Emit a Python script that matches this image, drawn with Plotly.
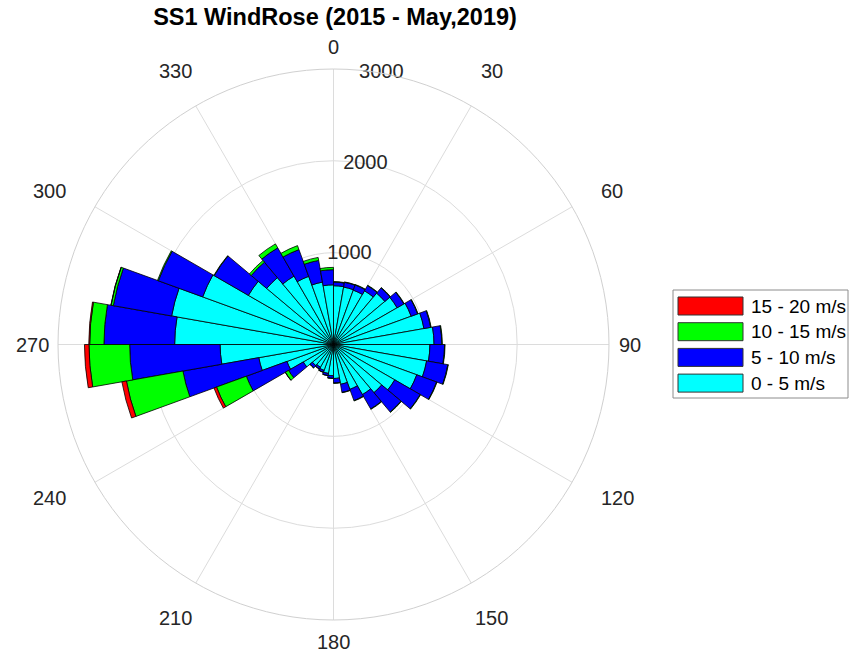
import math
import plotly.graph_objects as go

W, H = 853, 657
FONT = "Liberation Sans, Arial, Helvetica, sans-serif"

# ---- data -------------------------------------------------------------
directions = [5, 15, 25, 35, 45, 55, 65, 75, 85, 95, 105, 115, 125, 135, 145, 155, 165, 175,
              185, 195, 205, 215, 225, 235, 245, 255, 265, 275, 285, 295, 305, 315, 325, 335, 345, 355]

speed_0_5 = [640, 635, 630, 675, 730, 800, 900, 1000, 1095, 1050, 1030, 965, 770, 685, 630, 520, 440, 370,
             340, 320, 300, 285, 300, 380, 540, 826, 1235, 1730, 1790, 1516, 1070, 950, 860, 790, 690, 650]
speed_5_10 = [40, 53, 60, 65, 75, 85, 75, 75, 85, 160, 235, 230, 320, 275, 180, 130, 90, 50,
              28, 24, 22, 22, 33, 185, 470, 839, 985, 770, 645, 514, 430, 220, 355, 310, 240, 165]
speed_10_15 = [5, 4, 5, 5, 5, 5, 5, 5, 5, 5, 5, 5, 5, 5, 5, 5, 3, 3,
               2, 2, 2, 2, 3, 40, 345, 625, 443, 155, 25, 10, 5, 25, 50, 46, 33, 25]
speed_15_20 = [0, 0, 0, 0, 0, 0, 0, 0, 0, 0, 0, 0, 0, 0, 0, 0, 0, 0,
               0, 0, 0, 0, 0, 2, 30, 50, 49, 10, 2, 0, 0, 0, 0, 0, 0, 0]

series_values = [speed_0_5, speed_5_10, speed_10_15, speed_15_20]
series_names = ["0 - 5 m/s", "5 - 10 m/s", "10 - 15 m/s", "15 - 20 m/s"]
series_colors = ["#00FFFF", "#0000FF", "#00FF00", "#FF0000"]

angle_ticks = [0, 30, 60, 90, 120, 150, 180, 210, 240, 270, 300, 330]
angle_ticktext = ["0", "30", "60", "90", "120", "150", "180", "210", "240", "270", "300", "330"]
radial_ticks = [1000, 2000, 3000]
radial_ticktext = ["1000", "2000", "3000"]
radial_label_angle = 10

title_text = "SS1 WindRose (2015 - May,2019)"

# ---- layout constants (pixels) -----------------------------------------
R_MAX = 3000
CX, CY, RING = 333.5, 344.5, 275.5   # polar centre and outer ring radius
LABEL_R_VERTICAL = 297               # centre distance of the 0 / 180 labels
LABEL_R_NEAR_VERTICAL = 316          # centre distance of the 30 / 150 / 210 / 330 labels
LABEL_R_SIDE = 283                   # inner-edge distance of the 90 / 270 labels
LABEL_R_DIAGONAL = 307               # inner-edge distance of the 60 / 120 / 240 / 300 labels

# ---- figure -----------------------------------------------------------
fig = go.Figure()
for vals, name, color in zip(series_values, series_names, series_colors):
    fig.add_trace(go.Barpolar(
        r=vals, theta=directions, width=10, name=name,
        marker=dict(color=color, line=dict(color="black", width=0.8)),
        showlegend=False, hoverinfo="r+theta+name",
    ))

# radial tick labels (centred on the rings, 10 deg east of north)
fig.add_trace(go.Scatterpolar(
    r=radial_ticks, theta=[radial_label_angle] * len(radial_ticks),
    mode="text", text=radial_ticktext,
    textfont=dict(size=20, color="#262626", family=FONT),
    textposition="middle center", cliponaxis=False,
    showlegend=False, hoverinfo="skip",
))

annotations = []
# angular tick labels outside the outer ring
for t, txt in zip(angle_ticks, angle_ticktext):
    a = math.radians(t)
    s, c = math.sin(a), math.cos(a)
    if abs(s) < 1e-6:
        rr, xa = LABEL_R_VERTICAL, "center"
    elif abs(c) < 1e-6:
        rr, xa = LABEL_R_SIDE, ("left" if s > 0 else "right")
    elif abs(c) > 0.8:
        rr, xa = LABEL_R_NEAR_VERTICAL, "center"
    else:
        rr, xa = LABEL_R_DIAGONAL, ("left" if s > 0 else "right")
    px = CX + rr * s
    py = CY - rr * c
    annotations.append(dict(xref="paper", yref="paper", x=px / W, y=1 - py / H,
                            xanchor=xa, yanchor="middle", showarrow=False,
                            text=txt, font=dict(size=20, color="#262626", family=FONT)))

# custom legend (wide colour swatches like the original)
legend_left, legend_right = 673 / W, 848 / W
legend_top, legend_bottom = 1 - 290 / H, 1 - 398 / H
shapes = [dict(type="rect", xref="paper", yref="paper",
               x0=legend_left, x1=legend_right, y0=legend_bottom, y1=legend_top,
               line=dict(color="#8c8c8c", width=1), fillcolor="white", layer="below")]
order = list(range(len(series_names)))[::-1]
for i, k in enumerate(order):
    top_px = 297 + i * 25.7
    shapes.append(dict(type="rect", xref="paper", yref="paper",
                       x0=678 / W, x1=743 / W,
                       y0=1 - (top_px + 18) / H, y1=1 - top_px / H,
                       line=dict(color="#333333", width=1), fillcolor=series_colors[k]))
    annotations.append(dict(xref="paper", yref="paper", x=749 / W, y=1 - (top_px + 9) / H,
                            xanchor="left", yanchor="middle", showarrow=False,
                            text=series_names[k],
                            font=dict(size=19, color="#000000", family=FONT)))

fig.update_layout(
    width=W, height=H,
    margin=dict(l=0, r=0, t=0, b=0),
    paper_bgcolor="white",
    font=dict(family=FONT, color="#262626"),
    title=dict(text="<b>" + title_text + "</b>", x=335 / W, xanchor="center",
               y=1 - 17 / H, yanchor="middle",
               font=dict(size=23.5, color="#000000", family=FONT)),
    polar=dict(
        domain=dict(x=[(CX - RING) / W, (CX + RING) / W],
                    y=[1 - (CY + RING) / H, 1 - (CY - RING) / H]),
        bgcolor="white",
        barmode="stack",
        angularaxis=dict(
            rotation=90, direction="clockwise",
            tickmode="array", tickvals=angle_ticks, ticktext=angle_ticktext,
            showticklabels=False, ticks="",
            showgrid=True, gridcolor="#dcdcdc", gridwidth=1,
            showline=True, linecolor="#d0d0d0", linewidth=1,
        ),
        radialaxis=dict(
            range=[0, R_MAX], tickmode="array", tickvals=radial_ticks,
            showticklabels=False, ticks="", showline=False,
            gridcolor="#dcdcdc", gridwidth=1, angle=80,
        ),
    ),
    shapes=shapes,
    annotations=annotations,
)

fig.write_html("out.html", config={"displayModeBar": False},
               post_script="document.body.style.margin='0px';")
